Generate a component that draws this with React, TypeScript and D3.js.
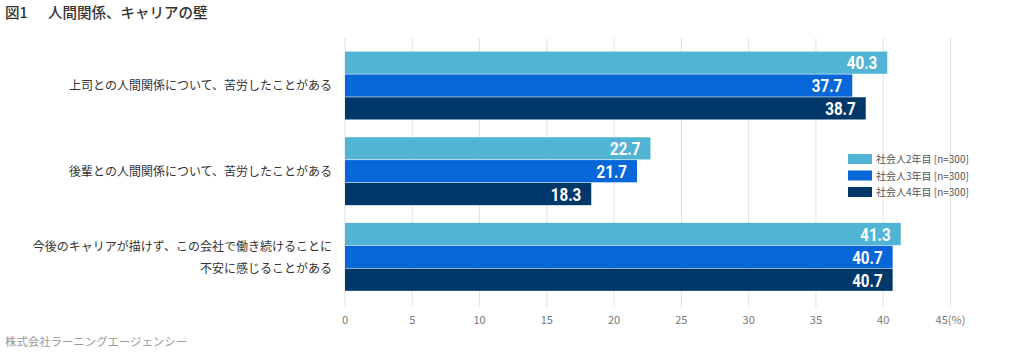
import React from "react";
import * as d3 from "d3";

const categories = [
  ["上司との人間関係について、苦労したことがある"],
  ["後輩との人間関係について、苦労したことがある"],
  ["今後のキャリアが描けず、この会社で働き続けることに", "不安に感じることがある"],
];
const seriesNames = ["社会人2年目 [n=300]", "社会人3年目 [n=300]", "社会人4年目 [n=300]"];
const year2 = [40.3, 22.7, 41.3];
const year3 = [37.7, 21.7, 40.7];
const year4 = [38.7, 18.3, 40.7];
const ticks = [0, 5, 10, 15, 20, 25, 30, 35, 40, 45];
const colors = ["#52b4d4", "#0767d8", "#00386a"];

const W = 1020;
const H = 356;
const font = "'Noto Sans CJK JP', 'Noto Sans', sans-serif";

export default function App() {
  const series = [year2, year3, year4];
  const x = d3.scaleLinear().domain([0, 45]).range([345, 950.5]);
  const y0 = d3
    .scaleBand<number>()
    .domain(d3.range(categories.length))
    .range([43, 300])
    .paddingInner(0.2)
    .paddingOuter(0.1);
  const y1 = d3.scaleBand<number>().domain(d3.range(series.length)).range([0, y0.bandwidth()]);

  return (
    <svg
      width={W}
      height={H}
      style={{ position: "absolute", left: 0, top: 0, background: "#fff" }}
      fontFamily={font}
    >
      <text x={5} y={18} fontSize={14.5} fill="#333" fontWeight={500}>
        <tspan>図1</tspan>
        <tspan x={48}>人間関係、キャリアの壁</tspan>
      </text>
      {ticks.map((t) => (
        <line key={t} x1={x(t)} x2={x(t)} y1={38} y2={307} stroke="#e2e2e2" strokeWidth={1} />
      ))}
      {ticks.map((t) => (
        <text key={"l" + t} x={x(t)} y={324} fontSize={11} fill="#777" textAnchor="middle">
          {t === 45 ? "45(%)" : String(t)}
        </text>
      ))}
      {categories.map((lines, ci) => {
        const cy = (y0(ci) as number) + y0.bandwidth() / 2;
        return (
          <g key={ci}>
            {lines.map((ln, li) => (
              <text
                key={li}
                x={332}
                y={cy + (li - (lines.length - 1) / 2) * 22 + 4.5}
                fontSize={12}
                fill="#333"
                textAnchor="end"
              >
                {ln}
              </text>
            ))}
            {series.map((s, si) => {
              const by = (y0(ci) as number) + (y1(si) as number);
              const v = s[ci];
              return (
                <g key={si}>
                  <rect
                    x={x(0)}
                    y={by}
                    width={x(v) - x(0)}
                    height={y1.bandwidth() - 0.6}
                    fill={colors[si]}
                  />
                  <text
                    transform={`translate(${x(v) - 10}, ${by + y1.bandwidth() / 2 + 6.5}) scale(0.82, 1)`}
                    textAnchor="end"
                    fill="#fff"
                    fontSize={18.5}
                    fontWeight={700}
                    fontFamily="Roboto, 'DejaVu Sans', sans-serif"
                  >
                    {v.toFixed(1)}
                  </text>
                </g>
              );
            })}
          </g>
        );
      })}
      {seriesNames.map((n, i) => (
        <g key={n} transform={`translate(848, ${154 + i * 16.5})`}>
          <rect width={24} height={10} fill={colors[i]} />
          <text x={28} y={9} fontSize={10} fill="#555">
            {n}
          </text>
        </g>
      ))}
      <text x={5} y={346} fontSize={11.4} fill="#999">
        株式会社ラーニングエージェンシー
      </text>
    </svg>
  );
}
